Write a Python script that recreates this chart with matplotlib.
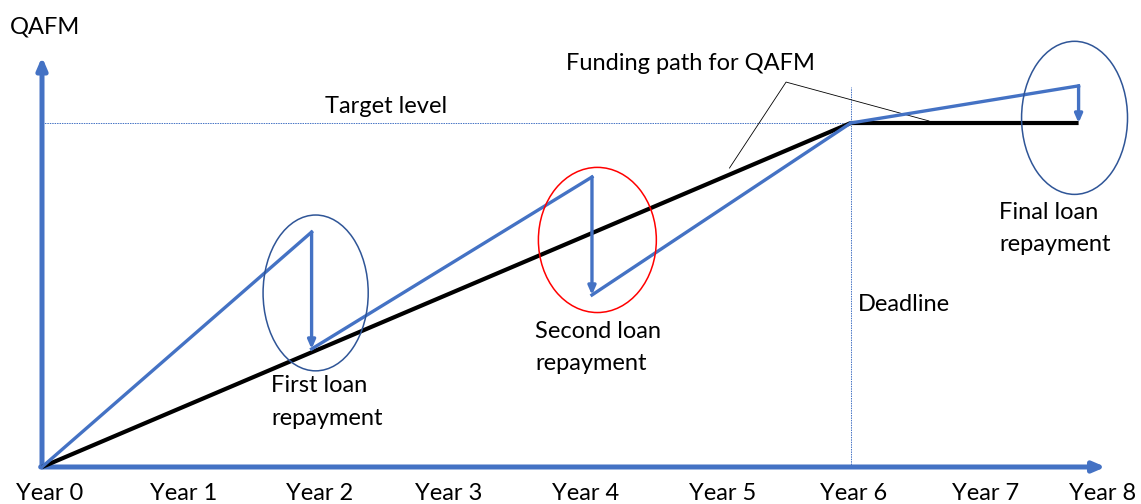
# Funding path sketch for QAFM: target level, loan repayments, deadline.
import matplotlib.pyplot as plt
from matplotlib.patches import Ellipse

plt.rcParams['font.family'] = ['Lato', 'DejaVu Sans']

# data (x in years, y in % of target level)
target = 100.0
year_labels = ['Year 0', 'Year 1', 'Year 2', 'Year 3', 'Year 4',
               'Year 5', 'Year 6', 'Year 7', 'Year 8']
year_ticks = [0.06, 1.05, 2.06, 3.02, 4.03, 5.05, 6.02, 7.0, 7.87]

black_x = [0.0, 6.0, 7.69]
black_y = [0.0, target, target]

blue_x = [0.0, 2.0, 2.0, 4.08, 4.08, 6.0, 7.69, 7.69]
blue_y = [0.0, 68.3, 34.3, 84.3, 50.0, 100.0, 110.8, 100.0]

# repayment circles: centre x, centre y, width, height, colour
circles = [(2.03, 50.6, 0.78, 45.3, '#2F5597'),
           (4.12, 66.0, 0.875, 42.2, '#FF0000'),
           (7.66, 101.5, 0.786, 44.5, '#2F5597')]

blue = '#4472C4'

fig = plt.figure(figsize=(11.41, 5.04), dpi=100)
ax = fig.add_axes([0, 0, 1, 1])
ax.set_xlim(-0.3116, 8.153)
ax.set_ylim(-10.76, 135.76)
ax.axis('off')

# reference lines
ax.plot([0, 6], [target, target], color=blue, lw=0.7, ls=(0, (1.5, 1)))
ax.plot([6, 6], [0, 110.5], color=blue, lw=0.7, ls=(0, (1.5, 1)))

# axes with arrows
ax.annotate('', xy=(0, 119.2), xytext=(0, 0),
            arrowprops=dict(arrowstyle='-|>,head_length=0.7,head_width=0.3',
                            color=blue, lw=3.6, shrinkA=0, shrinkB=0))
ax.annotate('', xy=(7.89, 0), xytext=(-0.01, 0),
            arrowprops=dict(arrowstyle='-|>,head_length=0.7,head_width=0.3',
                            color=blue, lw=3.6, shrinkA=0, shrinkB=0))

# funding path
ax.plot(black_x, black_y, color='black', lw=3.0, solid_capstyle='butt', zorder=3)

# blue path: rising segments, repayment drops as arrows
for i in range(len(blue_x) - 1):
    x0, y0, x1, y1 = blue_x[i], blue_y[i], blue_x[i + 1], blue_y[i + 1]
    if x0 == x1:
        ax.annotate('', xy=(x1, y1), xytext=(x0, y0),
                    arrowprops=dict(arrowstyle='-|>,head_length=0.5,head_width=0.22',
                                    color=blue, lw=2.4, shrinkA=0, shrinkB=0),
                    zorder=4)
    else:
        ax.plot([x0, x1], [y0, y1], color=blue, lw=2.4, zorder=4)

for cx, cy, w, h, c in circles:
    ax.add_patch(Ellipse((cx, cy), w, h, fill=False, edgecolor=c, lw=1.1, zorder=5))

# callout lines for funding path label
ax.plot([5.10, 5.52, 6.58], [86.9, 111.9, 100.6], color='black', lw=0.6, zorder=2)

fs = 17
for xt, lab in zip(year_ticks, year_labels):
    ax.text(xt, -7.6, lab, ha='center', va='center', fontsize=fs)

ax.text(-0.237, 127.9, 'QAFM', ha='left', va='center', fontsize=fs)
ax.text(2.10, 104.7, 'Target level', ha='left', va='center', fontsize=fs)
ax.text(3.89, 117.2, 'Funding path for QAFM', ha='left', va='center', fontsize=fs)
ax.text(1.70, 18.9, 'First loan\nrepayment', ha='left', va='center', fontsize=fs,
        linespacing=1.75)
ax.text(3.66, 34.6, 'Second loan\nrepayment', ha='left', va='center', fontsize=fs,
        linespacing=1.65)
ax.text(6.05, 47.1, 'Deadline', ha='left', va='center', fontsize=fs)
ax.text(7.10, 69.2, 'Final loan\nrepayment', ha='left', va='center', fontsize=fs,
        linespacing=1.65)

fig.savefig('out.png', dpi=100)
